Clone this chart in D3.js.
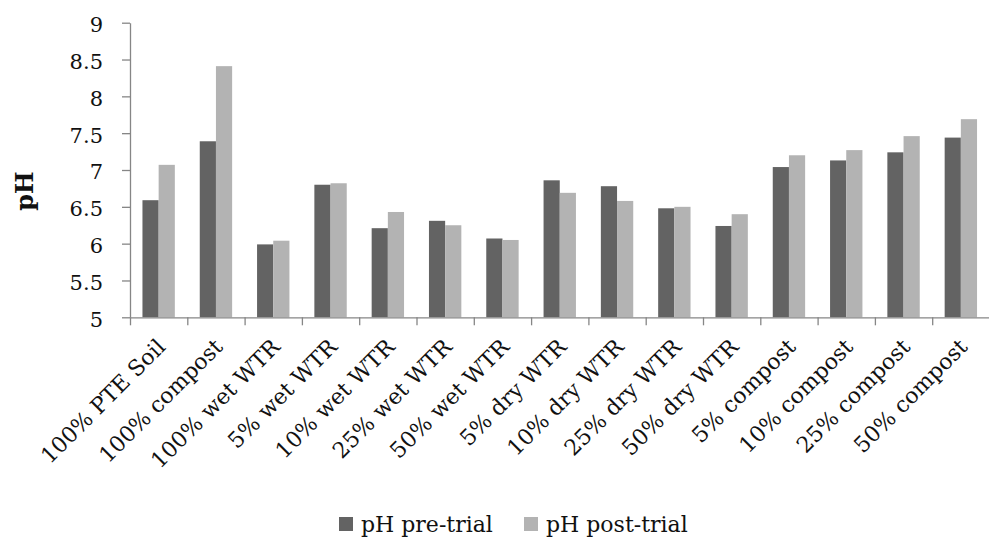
<!DOCTYPE html>
<html><head><meta charset="utf-8">
<script src="https://cdn.jsdelivr.net/npm/d3@7"></script>
<style>body{margin:0;background:#fff}svg{display:block}</style>
</head><body>
<svg id="chart" width="989" height="539"></svg>
<script>
const categories = ["100% PTE Soil","100% compost","100% wet WTR","5% wet WTR","10% wet WTR","25% wet WTR","50% wet WTR","5% dry WTR","10% dry WTR","25% dry WTR","50% dry WTR","5% compost","10% compost","25% compost","50% compost"];
const preTrial  = [6.59,7.39,5.99,6.80,6.21,6.31,6.07,6.86,6.78,6.48,6.24,7.04,7.13,7.24,7.44];
const postTrial = [7.07,8.41,6.04,6.82,6.43,6.25,6.05,6.69,6.58,6.50,6.40,7.20,7.27,7.46,7.69];
const seriesNames = ["pH pre-trial","pH post-trial"];
const seriesColors = ["#636363","#b3b3b3"];
const yTicks = [5,5.5,6,6.5,7,7.5,8,8.5,9];
const yTitle = "pH";

const FONT = "'DejaVu Serif', serif";
const svg = d3.select("#chart");
const mLeft = 130, mRight = 989.5, mTop = 22.7, mBottom = 317.3;
const axisColor = "#868686";

const x = d3.scaleBand().domain(categories).range([mLeft, mRight]).padding(0);
const bw = x.bandwidth();
const gap = bw * 0.435;
const x1 = d3.scaleBand().domain(seriesNames).range([gap/2, bw - gap/2]).padding(0);
const y = d3.scaleLinear().domain([5, 9]).range([mBottom, mTop]);
const xb = d3.scaleLinear().domain([0, categories.length]).range([mLeft, mRight]);

const series = [preTrial, postTrial];
series.forEach((vals, si) => {
  svg.append("g").selectAll("rect").data(vals).join("rect")
    .attr("x", (d, i) => x(categories[i]) + x1(seriesNames[si]))
    .attr("width", x1.bandwidth())
    .attr("y", d => y(d))
    .attr("height", d => y(5) - y(d))
    .attr("fill", seriesColors[si]);
});

// y axis
const ya = svg.append("g").attr("transform", `translate(${mLeft},0)`)
  .call(d3.axisLeft(y).tickValues(yTicks).tickSize(8).tickSizeOuter(0).tickPadding(19).tickFormat(d => String(d)));
ya.select(".domain").attr("stroke", axisColor).attr("stroke-width", 1.3);
ya.selectAll(".tick line").attr("stroke", axisColor).attr("stroke-width", 1.3);
ya.selectAll(".tick text").attr("font-family", FONT).attr("font-size", 21).attr("fill", "#111").attr("dy", "0.42em");

// x axis
const xa = svg.append("g").attr("transform", `translate(0,${mBottom})`)
  .call(d3.axisBottom(xb).tickValues(d3.range(categories.length + 1)).tickSize(8).tickSizeOuter(0).tickFormat(""));
xa.select(".domain").attr("stroke", axisColor).attr("stroke-width", 1.3);
xa.selectAll(".tick line").attr("stroke", axisColor).attr("stroke-width", 1.3);

svg.append("g").selectAll("text").data(categories).join("text")
  .attr("transform", d => `translate(${x(d) + bw/2 + 8},${mBottom + 31}) rotate(-45)`)
  .attr("text-anchor", "end")
  .attr("font-family", FONT).attr("font-size", 22).attr("fill", "#111")
  .text(d => d);

// y title
svg.append("text")
  .attr("transform", `translate(33,191) rotate(-90)`)
  .attr("text-anchor", "middle")
  .attr("font-family", FONT).attr("font-size", 24).attr("font-weight", "bold").attr("fill", "#111")
  .text(yTitle);

// legend
const legX = [339, 524];
seriesNames.forEach((n, i) => {
  svg.append("rect").attr("x", legX[i]).attr("y", 517).attr("width", 14).attr("height", 14).attr("fill", seriesColors[i]);
  svg.append("text").attr("x", legX[i] + 22).attr("y", 532)
    .attr("font-family", FONT).attr("font-size", 22).attr("fill", "#111").text(n);
});
</script>
</body></html>
